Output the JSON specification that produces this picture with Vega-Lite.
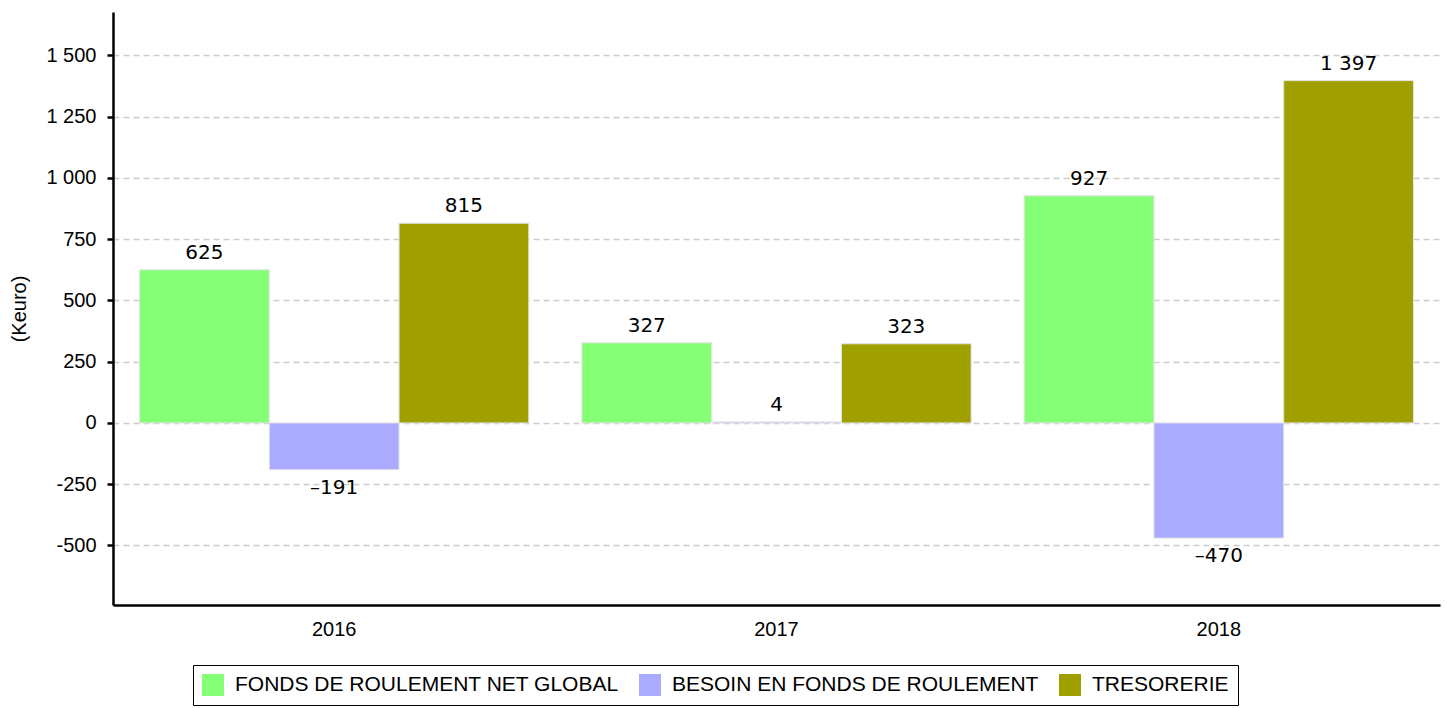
{
  "$schema": "https://vega.github.io/schema/vega-lite/v6.json",
  "autosize": {"type": "none"},
  "width": 1327,
  "height": 593,
  "padding": {"left": 113, "top": 12, "right": 7, "bottom": 103},
  "background": "white",
  "config": {
    "view": {"stroke": null},
    "font": "Liberation Sans"
  },
  "data": {
    "values": [
      {"annee": "2016", "serie": "FONDS DE ROULEMENT NET GLOBAL", "valeur": 625},
      {"annee": "2016", "serie": "BESOIN EN FONDS DE ROULEMENT", "valeur": -191},
      {"annee": "2016", "serie": "TRESORERIE", "valeur": 815},
      {"annee": "2017", "serie": "FONDS DE ROULEMENT NET GLOBAL", "valeur": 327},
      {"annee": "2017", "serie": "BESOIN EN FONDS DE ROULEMENT", "valeur": 4},
      {"annee": "2017", "serie": "TRESORERIE", "valeur": 323},
      {"annee": "2018", "serie": "FONDS DE ROULEMENT NET GLOBAL", "valeur": 927},
      {"annee": "2018", "serie": "BESOIN EN FONDS DE ROULEMENT", "valeur": -470},
      {"annee": "2018", "serie": "TRESORERIE", "valeur": 1397}
    ]
  },
  "transform": [
    {"calculate": "replace(replace(format(datum.valeur, ',d'), ',', ' '), '\u2212', '\u2013')", "as": "etiquette"}
  ],
  "encoding": {
    "x": {
      "field": "annee", "type": "nominal",
      "scale": {"paddingInner": 0.12, "paddingOuter": 0.06},
      "axis": {
        "title": null, "labelAngle": 0, "labelFontSize": 20, "labelColor": "#000",
        "labelFont": "Liberation Sans", "labelPadding": 14,
        "ticks": false, "domainColor": "#000", "domainWidth": 2.5, "grid": false
      }
    },
    "xOffset": {
      "field": "serie", "type": "nominal",
      "sort": ["FONDS DE ROULEMENT NET GLOBAL", "BESOIN EN FONDS DE ROULEMENT", "TRESORERIE"],
      "scale": {"paddingInner": 0, "paddingOuter": 0}
    },
    "y": {
      "field": "valeur", "type": "quantitative",
      "scale": {"domain": [-743, 1677], "nice": false},
      "axis": {
        "title": "(Keuro)", "titleFontSize": 20, "titleFontWeight": "normal", "titleColor": "#000",
        "titleFont": "Liberation Sans", "titlePadding": 16,
        "values": [-500, -250, 0, 250, 500, 750, 1000, 1250, 1500],
        "labelExpr": "replace(replace(format(datum.value, ','), ',', ' '), '\u2212', '-')",
        "labelFontSize": 20, "labelColor": "#000", "labelFont": "Liberation Sans", "labelPadding": 11,
        "tickSize": 6, "tickColor": "#000", "tickWidth": 2.5,
        "domainColor": "#000", "domainWidth": 2.5,
        "grid": true, "gridColor": "#cccccc", "gridDash": [6, 4], "gridWidth": 1.5
      }
    }
  },
  "layer": [
    {
      "mark": {"type": "bar", "stroke": "#e4e4e4", "strokeWidth": 1},
      "encoding": {
        "color": {
          "field": "serie", "type": "nominal",
          "scale": {
            "domain": ["FONDS DE ROULEMENT NET GLOBAL", "BESOIN EN FONDS DE ROULEMENT", "TRESORERIE"],
            "range": ["#85ff75", "#aaaaff", "#a09f00"]
          },
          "legend": {
            "title": null, "orient": "none", "legendX": 80, "legendY": 653,
            "direction": "horizontal", "columns": 3,
            "symbolType": "square", "symbolSize": 484, "symbolStrokeWidth": 0,
            "labelFontSize": 21, "labelColor": "#000", "labelFont": "Liberation Sans", "labelLimit": 0,
            "columnPadding": 20, "labelOffset": 11,
            "strokeColor": "#000", "padding": 9, "fillColor": "white"
          }
        }
      }
    },
    {
      "transform": [{"filter": "datum.valeur >= 0"}],
      "mark": {"type": "text", "baseline": "alphabetic", "dy": -11, "font": "DejaVu Sans", "fontSize": 20, "color": "#000"},
      "encoding": {"text": {"field": "etiquette", "type": "nominal"}}
    },
    {
      "transform": [{"filter": "datum.valeur < 0"}],
      "mark": {"type": "text", "baseline": "top", "dy": 8, "font": "DejaVu Sans", "fontSize": 20, "color": "#000"},
      "encoding": {"text": {"field": "etiquette", "type": "nominal"}}
    }
  ]
}
